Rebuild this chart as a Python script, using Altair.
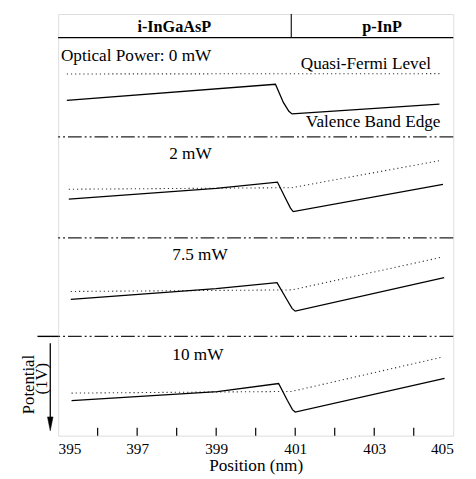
import altair as alt
import pandas as pd

# ---- data (x in nm, y in potential units, increasing downward) ----
x_labels = [395, 397, 399, 401, 403, 405]
minor_ticks = [396, 397, 398, 399, 400, 401, 402, 403, 404]

panels = ["0 mW", "2 mW", "7.5 mW", "10 mW"]

band_x = [
    [395.22, 400.50, 400.70, 400.84, 400.92, 404.65],
    [395.27, 399.00, 400.55, 400.76, 400.88, 400.95, 404.74],
    [395.32, 399.00, 400.54, 400.78, 400.92, 401.00, 404.77],
    [395.34, 399.03, 400.58, 400.80, 400.93, 401.00, 404.78],
]
band_y = [
    [0.880, 0.715, 0.900, 0.990, 1.017, 0.917],
    [1.883, 1.775, 1.710, 1.880, 1.975, 2.010, 1.733],
    [2.903, 2.793, 2.733, 2.900, 2.995, 3.023, 2.683],
    [3.933, 3.843, 3.760, 3.930, 4.025, 4.050, 3.707],
]
fermi_x = [
    [395.22, 404.65],
    [395.27, 400.92, 404.64],
    [395.32, 400.92, 404.68],
    [395.34, 400.91, 404.73],
]
fermi_y = [
    [0.610, 0.607],
    [1.783, 1.767, 1.493],
    [2.823, 2.807, 2.477],
    [3.857, 3.840, 3.490],
]

separators = [1.25, 2.277, 3.28]
header_line = 0.24
junction = 400.9

header_text = ["i-InGaAsP", "p-InP"]
header_x = [397.94, 403.2]
header_y = [0.18, 0.18]

label_text = ["Optical Power: 0 mW", "Quasi-Fermi Level", "Valence Band Edge",
              "2 mW", "7.5 mW", "10 mW"]
label_x = [395.07, 401.14, 401.27, 397.81, 397.89, 397.89]
label_y = [0.48, 0.56, 1.15, 1.48, 2.50, 3.52]

arrow_top = 3.35
arrow_bottom = 4.14
arrow_head = 4.17
y_max = 4.29

# ---- tables ----
rows_b, rows_f = [], []
for p, xs_, ys_ in zip(panels, band_x, band_y):
    for i, (a, b) in enumerate(zip(xs_, ys_)):
        rows_b.append({"panel": p, "i": i, "x": a, "y": b})
for p, xs_, ys_ in zip(panels, fermi_x, fermi_y):
    for i, (a, b) in enumerate(zip(xs_, ys_)):
        rows_f.append({"panel": p, "i": i, "x": a, "y": b})
band_df = pd.DataFrame(rows_b)
fermi_df = pd.DataFrame(rows_f)

SERIF = "Liberation Serif"
xs = alt.Scale(domain=[395, 405], nice=False, zero=False)
ys = alt.Scale(domain=[0, y_max], reverse=True, nice=False, zero=False)

xaxis = alt.Axis(values=x_labels, format="d", grid=False, domain=False, ticks=False,
                 tickSize=0, labelFont=SERIF, labelFontSize=15.5, labelPadding=6,
                 labelColor="black", title="Position (nm)", titleFont=SERIF,
                 titleFontSize=17.5, titleFontWeight="normal", titleColor="black",
                 titleY=35, titleBaseline="alphabetic")

band = alt.Chart(band_df).mark_line(color="black", strokeWidth=1.3).encode(
    x=alt.X("x:Q", scale=xs, axis=xaxis),
    y=alt.Y("y:Q", scale=ys, axis=None),
    detail="panel:N",
    order="i:Q",
)

fermi = alt.Chart(fermi_df).mark_line(color="#333", strokeWidth=1.1, strokeDash=[1.2, 3]).encode(
    x=alt.X("x:Q", scale=xs),
    y=alt.Y("y:Q", scale=ys, axis=None),
    detail="panel:N",
    order="i:Q",
)

sep = alt.Chart(pd.DataFrame({"y": separators})).mark_rule(
    color="#222", strokeWidth=1.2, strokeDash=[14, 3, 2, 3, 2, 3]
).encode(y=alt.Y("y:Q", scale=ys, axis=None))

hline = alt.Chart(pd.DataFrame({"y": [header_line]})).mark_rule(
    color="black", strokeWidth=1.4
).encode(y=alt.Y("y:Q", scale=ys, axis=None))

vdiv = alt.Chart(pd.DataFrame({"x": [junction], "y": [0.0], "y2": [header_line]})).mark_rule(
    color="black", strokeWidth=1.1
).encode(x=alt.X("x:Q", scale=xs), y=alt.Y("y:Q", scale=ys, axis=None), y2="y2:Q")

ticks = alt.Chart(pd.DataFrame({"x": minor_ticks, "y": [y_max - 0.08] * len(minor_ticks),
                                "y2": [y_max] * len(minor_ticks)})).mark_rule(
    color="black", strokeWidth=1.2
).encode(x=alt.X("x:Q", scale=xs), y=alt.Y("y:Q", scale=ys, axis=None), y2="y2:Q")

headers = alt.Chart(pd.DataFrame({"t": header_text, "x": header_x, "y": header_y})).mark_text(
    font=SERIF, fontSize=16.5, fontWeight="bold", color="black", align="center",
    baseline="alphabetic"
).encode(x=alt.X("x:Q", scale=xs), y=alt.Y("y:Q", scale=ys, axis=None), text="t:N")

labels = alt.Chart(pd.DataFrame({"t": label_text, "x": label_x, "y": label_y})).mark_text(
    font=SERIF, fontSize=17.5, color="black", align="left", baseline="alphabetic"
).encode(x=alt.X("x:Q", scale=xs), y=alt.Y("y:Q", scale=ys, axis=None), text="t:N")

# left-side potential scale: tick, arrow, label
ltick = alt.Chart(pd.DataFrame({"y": [separators[-1]]})).mark_rule(
    color="black", strokeWidth=1.4
).encode(x=alt.value(-21), x2=alt.value(0), y=alt.Y("y:Q", scale=ys, axis=None))

arrow_line = alt.Chart(pd.DataFrame({"y": [arrow_top], "y2": [arrow_bottom]})).mark_rule(
    color="black", strokeWidth=1.3
).encode(x=alt.value(-8), y=alt.Y("y:Q", scale=ys, axis=None), y2="y2:Q")

arrow_tip = alt.Chart(pd.DataFrame({"y": [arrow_head]})).mark_point(
    shape="M-0.4,-1L0.4,-1L0,1Z", filled=True, size=200,
    fill="black", stroke="black", strokeWidth=0.5, opacity=1
).encode(x=alt.value(-8), y=alt.Y("y:Q", scale=ys, axis=None))

pot_label = alt.Chart(pd.DataFrame({"t": ["Potential", "(1V)"], "y": [3.77, 3.71],
                                    "px": [-30, -16]})).mark_text(
    font=SERIF, fontSize=17, color="black", angle=270, align="center", baseline="middle"
).encode(x=alt.X("px:Q", scale=None), y=alt.Y("y:Q", scale=ys, axis=None), text="t:N")

chart = alt.layer(
    sep, hline, vdiv, ticks, fermi, band, headers, labels,
    ltick, arrow_line, arrow_tip, pot_label
).properties(
    width=402, height=429,
    autosize=alt.AutoSizeParams(type="none"),
    padding={"left": 51, "top": 2, "right": 15, "bottom": 40},
).configure_view(
    stroke="black", strokeWidth=1.4
).configure(background="white")

chart.save("out.html", embed_options={"renderer": "svg", "actions": False})
